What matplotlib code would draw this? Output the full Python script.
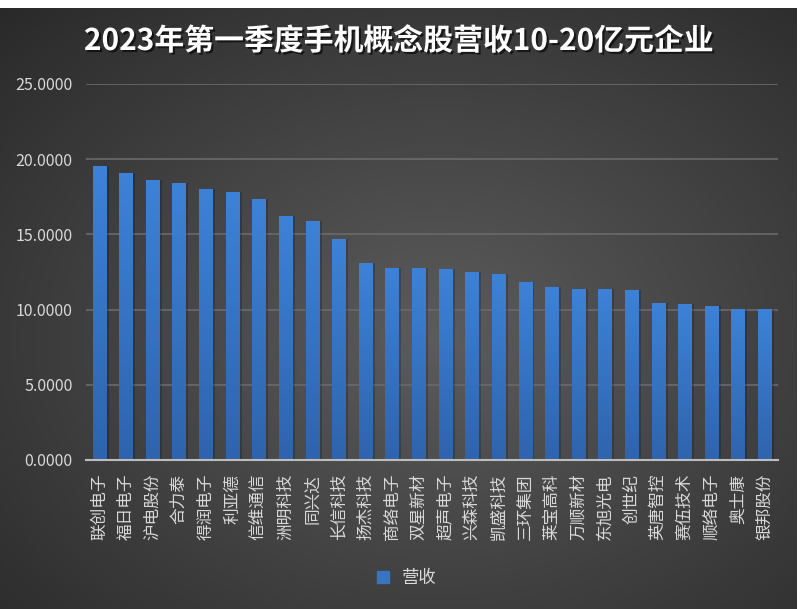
import numpy as np
import matplotlib
matplotlib.use('Agg')
import matplotlib.pyplot as plt
import matplotlib.patheffects as pe
from matplotlib.lines import Line2D

plt.rcParams['font.family'] = ['Noto Sans CJK SC', 'DejaVu Sans']

companies = ['联创电子', '福日电子', '沪电股份', '合力泰', '得润电子', '利亚德', '信维通信',
             '洲明科技', '同兴达', '长信科技', '扬杰科技', '商络电子', '双星新材', '超声电子',
             '兴森科技', '凯盛科技', '三环集团', '莱宝高科', '万顺新材', '东旭光电', '创世纪',
             '英唐智控', '赛伍技术', '顺络电子', '奥士康', '银邦股份']
revenue = [19.55, 19.07, 18.62, 18.42, 18.02, 17.82, 17.35, 16.22, 15.89, 14.69, 13.10,
           12.77, 12.77, 12.70, 12.50, 12.37, 11.84, 11.50, 11.37, 11.37, 11.30, 10.44,
           10.37, 10.24, 10.04, 10.04]
yticks = [0, 5, 10, 15, 20, 25]
title = '2023年第一季度手机概念股营收10-20亿元企业'

fig = plt.figure(figsize=(8.03, 6.09), dpi=100, facecolor='white')

# dark radial background
bg = fig.add_axes([0, 0, 797 / 803, 1 - 8 / 609], zorder=-10)
yy, xx = np.mgrid[0:1:300j, 0:1:400j]
r = np.sqrt(((xx - 0.55) / 0.75) ** 2 + ((yy - 0.55) / 0.75) ** 2)
shade = np.clip(0.36 - 0.19 * r, 0.15, 0.36)
bg.imshow(np.dstack([shade] * 3), extent=[0, 1, 0, 1], aspect='auto', origin='upper')
bg.axis('off')

ax = fig.add_axes([86 / 803, 1 - 460 / 609, 692 / 803, 376 / 609])
ax.patch.set_alpha(0)
x = np.arange(len(companies))

# bar shadows
ax.bar(x + 0.1, revenue, width=0.5, color='black', alpha=0.2, zorder=2)
bars = ax.bar(x, revenue, width=0.5, color='#3675C4', zorder=3)

grad = np.linspace(0, 1, 100).reshape(-1, 1)
cmap = matplotlib.colors.LinearSegmentedColormap.from_list('b', ['#3C82D8', '#2E64AE'])
for b in bars:
    im = ax.imshow(grad, cmap=cmap, aspect='auto', zorder=4,
                   extent=[b.get_x(), b.get_x() + b.get_width(), 0, b.get_height()])
    im.set_clip_path(b)

ax.set_xlim(-0.5, len(companies) - 0.5)
ax.set_ylim(0, 25)
ax.set_yticks(yticks)
ax.set_yticklabels(['%.4f' % v for v in yticks])
ax.set_xticks(x)
ax.set_xticklabels(companies, rotation=90, va='top', ha='center')
ax.tick_params(axis='y', length=0, pad=9.5, labelsize=11.5, labelcolor='#d9d9d9')
ax.tick_params(axis='x', length=0, pad=10, labelsize=12, labelcolor='#d9d9d9')
ax.grid(axis='y', color='#6a6a6a', lw=1.2, zorder=1)
ax.set_axisbelow(True)
for side in ['top', 'right', 'left']:
    ax.spines[side].set_visible(False)
ax.spines['bottom'].set_color('#bdbdbd')
ax.spines['bottom'].set_linewidth(1.5)
ax.spines['bottom'].set_zorder(5)

fig.text(0.497, 1 - 41 / 609, title, ha='center', va='center', fontsize=21.5,
         weight='bold', color='white',
         path_effects=[pe.withSimplePatchShadow(offset=(1.5, -1.5), shadow_rgbFace='black', alpha=0.6)])

handle = Line2D([], [], marker='s', ls='', markersize=8.5, color='#3675C4')
fig.legend([handle], ['营收'], loc='center', bbox_to_anchor=(0.5, 1 - 578 / 609),
           frameon=False, fontsize=12.5, labelcolor='#d9d9d9', handletextpad=0.1)

fig.savefig('out.png', dpi=100, facecolor=fig.get_facecolor())
